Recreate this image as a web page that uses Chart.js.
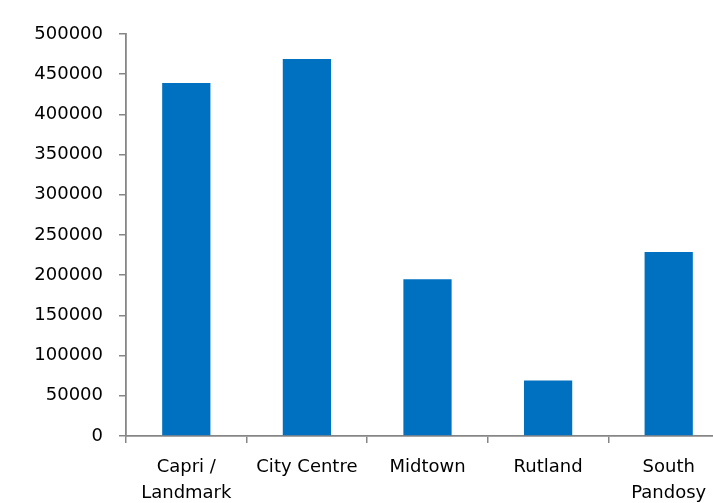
<!DOCTYPE html>
<html>
<head>
<meta charset="utf-8">
<script src="https://cdn.jsdelivr.net/npm/chart.js@4/dist/chart.umd.min.js"></script>
<style>
  html, body { margin: 0; padding: 0; background: #fff; overflow: hidden; }
  #wrap { width: 745px; height: 503px; }
</style>
</head>
<body>
<div id="wrap"><canvas id="chart" width="745" height="503"></canvas></div>
<script>
// chart data
const categories = [['Capri /', 'Landmark'], 'City Centre', 'Midtown', 'Rutland', ['South', 'Pandosy']];
const values = [439000, 469000, 195000, 69000, 229000];
const yMin = 0;
const yMax = 500000;
const yStep = 50000;

const axisGray = '#868686';
const barBlue = '#0070C0';
const labelFont = { family: 'DejaVu Sans', size: 18, lineHeight: 1.42 };

const ctx = document.getElementById('chart').getContext('2d');

new Chart(ctx, {
    type: 'bar',
    data: {
        labels: categories,
        datasets: [{
            data: values,
            backgroundColor: barBlue,
            borderWidth: 0,
            barPercentage: 0.4,
            categoryPercentage: 1
        }]
    },
    options: {
        responsive: false,
        animation: false,
        layout: { padding: { left: 0, top: 34, right: 16, bottom: 0 } },
        plugins: {
            legend: { display: false },
            tooltip: { enabled: false }
        },
        scales: {
            x: {
                grid: {
                    display: true,
                    offset: true,
                    drawOnChartArea: false,
                    drawTicks: true,
                    tickLength: 7,
                    color: axisGray,
                    lineWidth: 1.5
                },
                border: { display: true, color: axisGray, width: 1.8 },
                ticks: {
                    color: '#000',
                    font: labelFont,
                    padding: 12,
                    maxRotation: 0,
                    autoSkip: false
                },
                afterFit: function(scale) { scale.height = 67; }
            },
            y: {
                min: yMin,
                max: yMax,
                grid: {
                    display: true,
                    drawOnChartArea: false,
                    drawTicks: true,
                    tickLength: 7,
                    color: axisGray,
                    lineWidth: 1.5
                },
                border: { display: true, color: axisGray, width: 1.8 },
                ticks: {
                    stepSize: yStep,
                    color: '#000',
                    font: labelFont,
                    padding: 16,
                    callback: function(value) { return String(value); }
                },
                afterFit: function(scale) { scale.width = 126; }
            }
        }
    }
});
</script>
</body>
</html>
